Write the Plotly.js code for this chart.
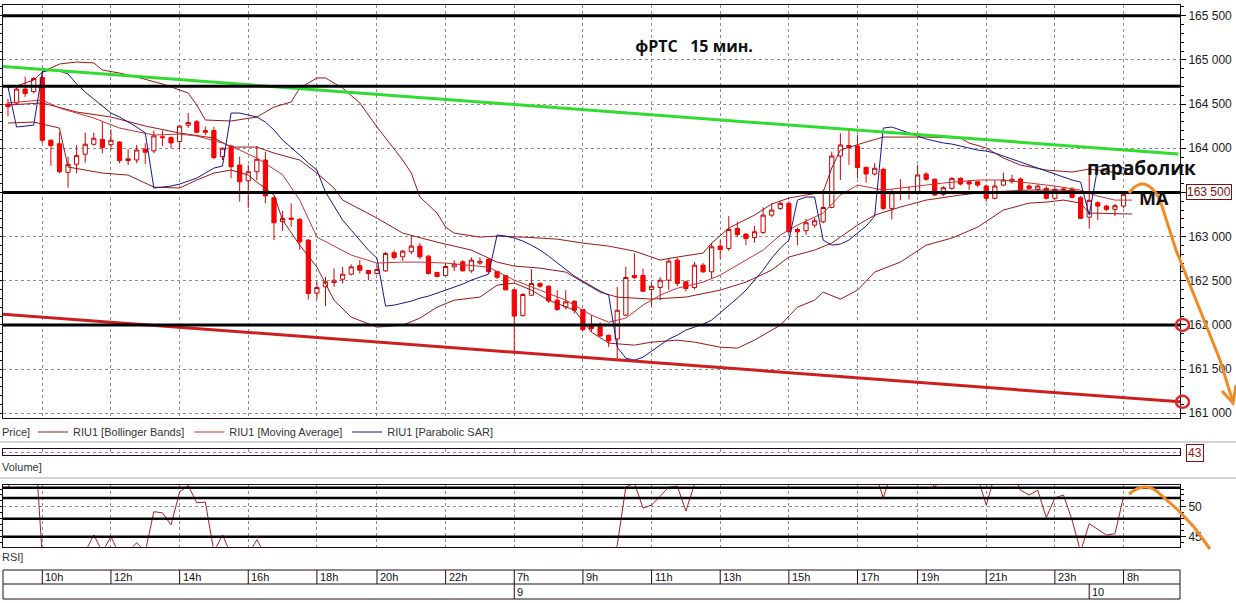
<!DOCTYPE html>
<html><head><meta charset="utf-8">
<script src="https://cdn.plot.ly/plotly-3.0.1.min.js"></script>
<style>html,body{margin:0;padding:0;background:#fff}#chart{width:1236px;height:603px}</style>
</head><body><div id="chart"></div>
<script>
// ---------- DATA ----------
// candle index 0..130 (15-minute bars)
const candleOpen = [164500,164510,164670,164640,164800,164090,164050,163727,163818,163932,
164045,164100,164040,164070,163860,163867,163990,163970,164130,164120,
164075,164260,164300,164200,164200,163905,164025,163810,163632,163734,
163867,163440,163168,163210,163195,162960,162360,162431,162480,162517,
162574,162670,162616,162582,162612,162816,162771,162828,162892,162778,
162594,162559,162657,162714,162612,162700,162742,162605,162559,162397,
162105,162336,162470,162438,162280,162204,162268,162174,162000,161978,
161883,161840,162110,162560,162559,162400,162423,162506,162733,162488,
162423,162676,162601,162892,162865,163092,163028,162990,163047,163243,
163319,163376,163080,163066,163130,163168,163330,163912,164030,164025,
163784,163708,163761,163319,163510,163500,163496,163708,163648,163478,
163546,163659,163621,163621,163572,163433,163583,163621,163651,163572,
163534,163546,163433,163540,163534,163440,163220,163383,163345,163308,
163345];
const candleHigh = [164560,164690,164810,164805,164890,164100,164180,163905,164037,164177,
164177,164300,164215,164080,163990,164037,164056,164199,164200,164130,
164260,164400,164320,164245,164245,164010,164040,163905,163810,164025,
163960,163450,163292,163376,163210,162970,162483,162544,162640,162657,
162684,162733,162620,162676,162828,162846,162850,163005,162930,162790,
162600,162696,162733,162735,162765,162764,162750,162610,162560,162400,
162360,162631,162480,162450,162393,162393,162280,162180,162109,162030,
161890,162430,162657,162809,162639,162480,162540,162750,162760,162500,
162714,162700,162930,162960,163232,163168,163040,163120,163330,163376,
163400,163400,163100,163200,163215,163530,163961,164170,164227,164150,
163790,163830,163780,163534,163650,163570,163810,163730,163660,163570,
163670,163670,163640,163630,163590,163640,163723,163700,163670,163590,
163590,163570,163560,163560,163560,163460,163790,163400,163360,163370,
163500];
const candleLow = [164360,164500,164580,164620,164060,163800,163715,163553,163716,163836,
164030,163943,163980,163830,163810,163830,163822,163943,164025,164000,
163990,164230,164175,164150,163875,163867,163660,163395,163320,163640,
163376,162960,163065,163110,162850,162290,162287,162212,162430,162469,
162560,162582,162506,162570,162600,162740,162725,162800,162742,162570,
162540,162550,162612,162605,162590,162680,162595,162520,162390,161695,
162095,162330,162420,162250,162160,162174,162130,161930,161920,161870,
161750,161620,162100,162520,162370,162212,162280,162400,162440,162380,
162400,162590,162523,162750,162840,162998,162903,162930,163030,163220,
163300,163040,162903,163020,163100,163150,163320,163640,163810,163660,
163610,163690,163300,163195,163410,163420,163470,163630,163460,163460,
163530,163580,163527,163560,163394,163420,163570,163600,163520,163530,
163520,163420,163420,163500,163430,163200,163090,163187,163290,163232,
163320];
const candleClose = [164470,164670,164620,164790,164090,164030,163735,163818,163916,164045,
164113,164010,164090,163860,163880,163980,163955,164140,164120,164060,
164250,164290,164180,164180,163895,164000,163790,163620,163734,163875,
163460,163156,163206,163195,162940,162355,162423,162488,162506,162574,
162657,162620,162582,162628,162809,162764,162835,162892,162771,162582,
162548,162661,162688,162612,162733,162720,162601,162540,162397,162100,
162344,162469,162438,162271,162174,162261,162166,161947,161958,161874,
161818,162166,162537,162537,162382,162438,162506,162722,162469,162412,
162676,162601,162884,162854,163081,163024,162979,163054,163243,163300,
163376,163054,163054,163156,163179,163330,163912,164037,164010,163780,
163708,163773,163319,163496,163500,163490,163697,163648,163470,163553,
163659,163595,163595,163583,163433,163572,163640,163648,163534,163546,
163572,163433,163534,163530,163444,163206,163410,163345,163308,163349,
163478];

const bbUpperIdx = [0,1,3,4,6,8,10,11,13,15,18,21,22,23,26,29,31,33,34,36,37,39,41,43,46,47,48,50,51,52,55,57,60,64,67,70,73,76,78,81,82,84,87,89,91,93,95,96,97,100,102,107,111,112,114,116,118,121,124,126,128,130,131];
const bbUpper = [164681,164704,164772,164863,164953,164976,164965,164885,164851,164806,164727,164625,164489,164319,164308,164353,164466,164523,164681,164795,164795,164681,164512,164240,163866,163719,163447,163266,163107,163039,162994,163005,162994,162971,162926,162892,162835,162734,162768,162813,162926,163096,163243,163368,163436,163470,163504,163776,163979,164070,164126,164126,164115,164059,164002,163889,163809,163753,163730,163764,163741,163708,163700];

const bbMiddleIdx = [0,4,8,12,16,20,24,26,29,31,34,36,38,39,43,46,50,54,57,59,62,65,69,71,75,79,83,86,89,91,94,96,99,101,104,107,111,114,119,123,126,131];
const bbMiddle = [164489,164512,164410,164353,164251,164172,164115,164013,164013,163945,163866,163719,163549,163413,163209,163039,162937,162847,162711,162666,162643,162598,162371,162315,162292,162315,162394,162484,162620,162768,162847,162926,163130,163243,163334,163413,163470,163504,163526,163526,163504,163492];

const bbLowerIdx = [0,3,6,7,11,14,17,20,22,24,26,28,29,31,32,34,36,38,40,43,46,48,50,52,55,57,59,61,63,66,68,70,73,75,78,80,83,85,87,90,92,94,95,97,99,101,104,107,110,113,116,119,121,123,125,126,131];
const bbLower = [164285,164296,164228,163787,163719,163696,163560,163549,163640,163719,163753,163696,163617,163470,163187,162903,162654,162280,162088,161975,161997,162077,162201,162280,162315,162450,162473,162394,162280,162167,161918,161794,161771,161805,161828,161805,161748,161737,161828,161997,162201,162280,162371,162292,162394,162598,162711,162903,162983,163107,163300,163379,163390,163413,163379,163266,163255];

const maIdx = [0,4,6,10,13,17,20,22,25,27,29,32,34,36,40,43,46,48,51,54,56,59,62,65,68,70,72,74,76,78,81,83,85,88,90,92,95,97,99,102,105,109,113,116,119,122,125,127,129,131];
const maValues = [164512,164546,164455,164342,164228,164149,164160,164138,164059,163979,163889,163700,163413,162994,162790,162700,162711,162711,162700,162677,162654,162507,162394,162280,162111,162031,162077,162224,162337,162416,162484,162564,162677,162847,163017,163130,163266,163470,163583,163526,163560,163606,163640,163640,163606,163572,163526,163458,163413,163413];

// Parabolic SAR, one value per bar 0..131
const sarValues = [164693,164240,164250,164262,164863,164885,164874,164840,164727,164636,
164557,164478,164398,164353,164296,164240,164172,163549,163560,163572,
163594,163628,163662,163719,163775,163798,164398,164398,164376,164353,
164296,164206,164093,164013,163923,163832,163753,163504,163345,163187,
163073,162960,162847,162756,162213,162224,162247,162269,162303,162326,
162360,162394,162428,162462,162507,162541,162575,163017,163005,162983,
162949,162903,162847,162779,162700,162620,162552,162496,162439,162383,
162337,161748,161624,161601,161635,161703,161771,161839,161884,161941,
161975,162009,162054,162134,162213,162303,162394,162507,162620,162756,
162869,162960,163413,163447,163447,162960,162903,162915,162960,163039,
163118,163232,164228,164240,164206,164172,164138,164104,164081,164059,
164047,164025,164002,163979,163968,163945,163911,163877,163843,163809,
163775,163742,163708,163673,163640,163617,163243,163787,163809,163798,
163775,163753];

const rsiIdx = [0,1,3,4,9,10,11,12,13,14,15,16,17,18,19,20,21,22,23,24,25,26,28,29,30,35,45,60,70,71,72,73,74,75,76,77,78,79,80,81,90,100,101,102,103,105,107,108,109,111,113,114,115,117,118,119,120,121,122,123,124,125,126,127,128,129,130];
const rsiValues = [53.0,58,64,41.7,42.5,45.3,42.5,45.0,42,42.5,44.0,42.5,49.2,49.0,47.0,52.5,53.6,50.7,50.8,42.5,45.3,42,42,44.5,42,38,35,33,40,43.6,53.3,54.0,49.8,50.3,51.8,53.3,53.5,49.3,53.8,56,62,58,56,51.5,56,58,56,53.2,56,57,55,50.3,55.3,56,52.8,52.0,52.8,48.2,51.5,52.0,47.8,42.5,47.2,46.2,45.3,45.5,51.7];

const volumeLast = [43];

// user-drawn trend lines (ends at the chart edges)
const greenTrendIdx = [-0.6, 136.4];
const greenTrend = [164925, 163934];
const redTrendIdx = [-0.6, 136.6];
const redTrend = [162122, 161129];

// horizontal levels drawn by the user
const priceLevels = [165500, 164700, 163500, 162000];
const rsiLevels = [53.2, 51.5, 48, 45];

// axis labels
const priceTicks = [161000,161500,162000,162500,163000,163500,164000,164500,165000,165500];
const priceTickText = ['161 000','161 500','162 000','162 500','163 000','163 500','164 000','164 500','165 000','165 500'];
const timeTickIdx = [4,12,20,28,36,43,51,59,67,75,83,91,99,106,114,122,130];
const timeTickText = ['10h','12h','14h','16h','18h','20h','22h','7h','9h','11h','13h','15h','17h','19h','21h','23h','8h'];
const dayIdx = [59,126];
const dayText = ['9','10'];
const lastPrice = 163500;

// ---------- LAYOUT HELPERS ----------
const W=1236, H=603, ML=3, MR=56, MT=5, MB=3;
const PW=W-ML-MR, PH=H-MT-MB;
const px = x => (x-ML)/PW;          // pixel -> paper x
const py = y => (H-MB-y)/PH;        // pixel -> paper y
const P = (x,y) => px(x).toFixed(5)+','+py(y).toFixed(5);
const candleIdx = candleOpen.map((_,i)=>i);
const sarIdx = sarValues.map((_,i)=>i);

const BBC='#9a1616', MAC='#c83232', SARC='#16168c', AXC='#1e0c1e';
const GRID = {showgrid:true, gridcolor:'#8c8c8c', griddash:'3px,3px', gridwidth:1};
const FONT = 'Arial, "Liberation Sans", sans-serif';

const traces = [
  {type:'candlestick', x:candleIdx, open:candleOpen, high:candleHigh, low:candleLow, close:candleClose,
   increasing:{line:{color:'#c40000',width:1}, fillcolor:'#ffffff'},
   decreasing:{line:{color:'#f00000',width:1}, fillcolor:'#ff0000'},
   whiskerwidth:0, showlegend:false, hoverinfo:'skip', xaxis:'x', yaxis:'y'},
  {type:'scatter', mode:'lines', x:bbUpperIdx, y:bbUpper, name:'RIU1 [Bollinger Bands]', legendgroup:'bb',
   line:{color:BBC,width:1}, showlegend:true, hoverinfo:'skip'},
  {type:'scatter', mode:'lines', x:bbMiddleIdx, y:bbMiddle, legendgroup:'bb', line:{color:BBC,width:1}, showlegend:false, hoverinfo:'skip'},
  {type:'scatter', mode:'lines', x:bbLowerIdx, y:bbLower, legendgroup:'bb', line:{color:BBC,width:1}, showlegend:false, hoverinfo:'skip'},
  {type:'scatter', mode:'lines', x:maIdx, y:maValues, name:'RIU1 [Moving Average]', line:{color:MAC,width:1}, hoverinfo:'skip'},
  {type:'scatter', mode:'lines', x:sarIdx, y:sarValues, name:'RIU1 [Parabolic SAR]', line:{color:SARC,width:1}, hoverinfo:'skip'},
  {type:'scatter', mode:'lines', x:greenTrendIdx, y:greenTrend, line:{color:'#30dc30',width:3}, showlegend:false, hoverinfo:'skip'},
  {type:'scatter', mode:'lines', x:redTrendIdx, y:redTrend, line:{color:'#cc2020',width:3}, showlegend:false, hoverinfo:'skip'},
  {type:'scatter', mode:'lines', x:[130], y:volumeLast, yaxis:'y2', line:{color:'#800000',width:1}, showlegend:false, hoverinfo:'skip'},
  {type:'scatter', mode:'lines', x:rsiIdx, y:rsiValues, yaxis:'y3', line:{color:'#b01c1c',width:1}, showlegend:false, hoverinfo:'skip'}
];

const shapes = [];
priceLevels.forEach(v=>shapes.push({type:'line', xref:'x domain', x0:0, x1:1, yref:'y', y0:v, y1:v, line:{color:'#000',width:3}, layer:'above'}));
rsiLevels.forEach(v=>shapes.push({type:'line', xref:'x domain', x0:0, x1:1, yref:'y3', y0:v, y1:v, line:{color:'#000',width:2.5}, layer:'above'}));
// grey panel separators
[442, 478].forEach(y=>shapes.push({type:'line', xref:'paper', x0:px(0), x1:px(1236), yref:'paper', y0:py(y), y1:py(y), line:{color:'#a8a8a8',width:1}}));
// time scale box
shapes.push({type:'rect', xref:'paper', x0:0, x1:1, yref:'paper', y0:py(599), y1:py(570), line:{color:AXC,width:1}});
shapes.push({type:'line', xref:'paper', x0:0, x1:1, yref:'paper', y0:py(584), y1:py(584), line:{color:AXC,width:1}});
timeTickIdx.forEach(t=>shapes.push({type:'line', xref:'x', x0:t, x1:t, yref:'paper', y0:py(584), y1:py(570), line:{color:AXC,width:1}}));
dayIdx.forEach(t=>shapes.push({type:'line', xref:'x', x0:t, x1:t, yref:'paper', y0:py(599), y1:py(584), line:{color:AXC,width:1}}));
// hand-drawn red circles at the right scale
shapes.push({type:'circle', xref:'paper', xsizemode:'pixel', xanchor:1, x0:-4, x1:9, yref:'y', ysizemode:'pixel', yanchor:priceLevels[3], y0:-6, y1:6, line:{color:'#e02828',width:2.5}});
shapes.push({type:'circle', xref:'paper', xsizemode:'pixel', xanchor:1, x0:-4, x1:9, yref:'y', ysizemode:'pixel', yanchor:redTrend[1], y0:-6, y1:6, line:{color:'#e02828',width:2.5}});
// hand-drawn orange forecast arrows
const ORANGE='#f08a24';
shapes.push({type:'path', xref:'paper', yref:'paper', line:{color:ORANGE,width:3},
  path:`M${P(1129,193)} Q${P(1145,172)} ${P(1160,200)} L${P(1176,250)} L${P(1200,310)} L${P(1220,360)} L${P(1233,402)}`});
shapes.push({type:'path', xref:'paper', yref:'paper', line:{color:ORANGE,width:3},
  path:`M${P(1222,391)} L${P(1233,403)} L${P(1236,385)}`});
shapes.push({type:'path', xref:'paper', yref:'paper', line:{color:ORANGE,width:3},
  path:`M${P(1129,494)} Q${P(1146,480)} ${P(1160,494)} L${P(1178,510)} L${P(1194,527)} L${P(1210,549)}`});

const annotations = [];
timeTickIdx.forEach((t,i)=>annotations.push({xref:'x', x:t, xanchor:'left', xshift:1, yref:'paper', y:py(577), yanchor:'middle',
  text:timeTickText[i], showarrow:false, font:{family:FONT,size:11,color:'#111'}}));
dayIdx.forEach((t,i)=>annotations.push({xref:'x', x:t, xanchor:'left', xshift:1, yref:'paper', y:py(592), yanchor:'middle',
  text:dayText[i], showarrow:false, font:{family:FONT,size:11,color:'#111'}}));
[['Price]',0,432],['Volume]',0,467],['RSI]',0,557]].forEach(a=>annotations.push({xref:'paper', x:px(a[1]), xanchor:'left',
  yref:'paper', y:py(a[2]), yanchor:'middle', text:a[0], showarrow:false, font:{family:FONT,size:11,color:'#333'}}));
annotations.push({xref:'paper', x:px(1141), xanchor:'center', yref:'paper', y:py(168), yanchor:'middle', text:'<b>параболик</b>',
  showarrow:false, font:{family:'"Open Sans", sans-serif', size:19, color:'#111'}});
annotations.push({xref:'paper', x:px(1154), xanchor:'center', yref:'paper', y:py(198), yanchor:'middle', text:'<b>МА</b>',
  showarrow:false, font:{family:'"Open Sans", sans-serif', size:18, color:'#111'}});
annotations.push({xref:'paper', x:px(1186), xanchor:'left', yref:'y', y:lastPrice, yanchor:'middle', text:'163 500',
  showarrow:false, bgcolor:'#ffffff', bordercolor:'#7a1010', borderwidth:1, borderpad:0, font:{family:FONT,size:12,color:'#7a1010'}});
annotations.push({xref:'paper', x:px(1186), xanchor:'left', yref:'paper', y:py(453), yanchor:'middle', text:'43',
  showarrow:false, bgcolor:'#ffffff', bordercolor:'#7a1010', borderwidth:1, borderpad:1, font:{family:FONT,size:12,color:'#a01010'}});

const layout = {
  width:W, height:H, margin:{l:ML,r:MR,t:MT,b:MB},
  paper_bgcolor:'#ffffff', plot_bgcolor:'#ffffff',
  hovermode:false, dragmode:false,
  title:{text:'<b>фРТС\u00a0\u00a0\u00a015 мин.</b>', x:694/W, xref:'container', xanchor:'center', y:1-46/H, yref:'container', yanchor:'middle',
         font:{family:'"Open Sans", sans-serif', size:16, color:'#111'}},
  showlegend:true,
  legend:{orientation:'h', x:px(33), xanchor:'left', y:py(432), yanchor:'middle', bgcolor:'rgba(0,0,0,0)',
          font:{family:FONT,size:11,color:'#333'}, itemwidth:30, traceorder:'normal'},
  xaxis:Object.assign({domain:[0,1], range:[-0.58,136.58], anchor:'y3', tickmode:'array', tickvals:timeTickIdx,
          showticklabels:false, ticks:'', zeroline:false, showline:true, linecolor:AXC, linewidth:1, mirror:'all',
          rangeslider:{visible:false}, fixedrange:true}, GRID),
  yaxis:Object.assign({domain:[py(418.3),1], range:[160943,165621], side:'right', tickmode:'array', tickvals:priceTicks, ticktext:priceTickText,
          ticks:'outside', ticklen:5, tickcolor:'#000', tickfont:{family:FONT,size:12,color:'#1a1a1a'},
          minor:{dtick:100, ticks:'outside', ticklen:3, tickcolor:'#000', showgrid:false},
          zeroline:false, showline:true, linecolor:AXC, linewidth:1, mirror:'ticks', fixedrange:true}, GRID),
  yaxis2:Object.assign({domain:[py(455),py(449.3)], range:[0,100], tickmode:'array', tickvals:[50], showticklabels:false, ticks:'',
          zeroline:false, showline:true, linecolor:AXC, linewidth:1, mirror:true, fixedrange:true}, GRID),
  yaxis3:Object.assign({domain:[py(546.7),py(485)], range:[43.33,53.67], side:'right', tickmode:'array', tickvals:[45,50], ticktext:['45','50'],
          ticks:'outside', ticklen:5, tickcolor:'#000', tickfont:{family:FONT,size:12,color:'#1a1a1a'},
          minor:{dtick:1, ticks:'outside', ticklen:3, tickcolor:'#000', showgrid:false},
          zeroline:false, showline:true, linecolor:AXC, linewidth:1, mirror:'ticks', fixedrange:true}, GRID),
  shapes:shapes, annotations:annotations
};

Plotly.newPlot('chart', traces, layout, {staticPlot:true, displayModeBar:false});
</script>
</body></html>
